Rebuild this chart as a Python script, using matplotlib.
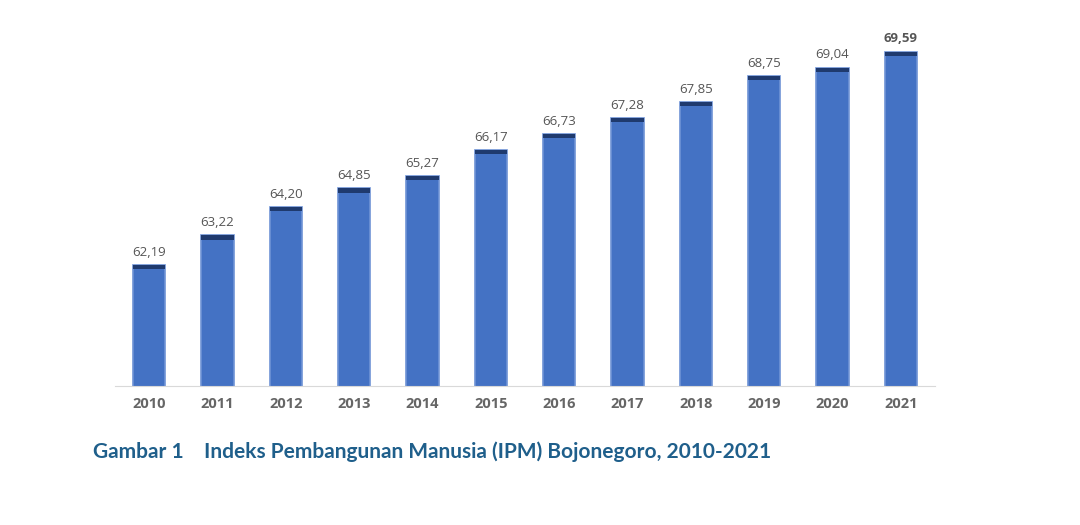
import matplotlib.pyplot as plt

years = ["2010", "2011", "2012", "2013", "2014", "2015",
         "2016", "2017", "2018", "2019", "2020", "2021"]
ipm = [62.19, 63.22, 64.20, 64.85, 65.27, 66.17,
       66.73, 67.28, 67.85, 68.75, 69.04, 69.59]

fig = plt.figure(figsize=(10.8, 5.25), dpi=100)
ax = fig.add_axes([115 / 1080, 1 - 386 / 525, 820 / 1080, 346 / 525])

x = range(len(years))
ax.bar(x, ipm, width=0.47, bottom=0, color="#4472c4",
       edgecolor="#6f93d6", linewidth=1.2, zorder=2)
# dark cap on top of each bar
cap = 0.14
ax.bar(x, [cap] * len(ipm), width=0.47, bottom=[v - cap for v in ipm],
       color="#1f3a6e", linewidth=0, zorder=3)

for i, v in enumerate(ipm):
    label = f"{v:.2f}".replace(".", ",")
    ax.text(i, v + 0.22, label, ha="center", va="bottom", fontsize=9.5,
            color="#555555", family="Open Sans",
            fontweight="bold" if i == len(ipm) - 1 else "normal")

ax.set_ylim(58, 70)
ax.set_xlim(-0.5, len(years) - 0.5)
ax.set_xticks(list(x))
ax.set_xticklabels(years, fontsize=10.5, fontweight="bold", color="#666666",
                   family="Open Sans")
ax.tick_params(axis="x", length=0, pad=8)
ax.set_yticks([])
for s in ["top", "right", "left"]:
    ax.spines[s].set_visible(False)
ax.spines["bottom"].set_color("#d9d9d9")

fig.text(93 / 1080, 1 - 452 / 525,
         "Gambar 1    Indeks Pembangunan Manusia (IPM) Bojonegoro, 2010-2021",
         fontsize=15, fontweight="bold", color="#1f5f8b", family="Lato",
         va="center", ha="left")

fig.savefig("out.png", dpi=100)
